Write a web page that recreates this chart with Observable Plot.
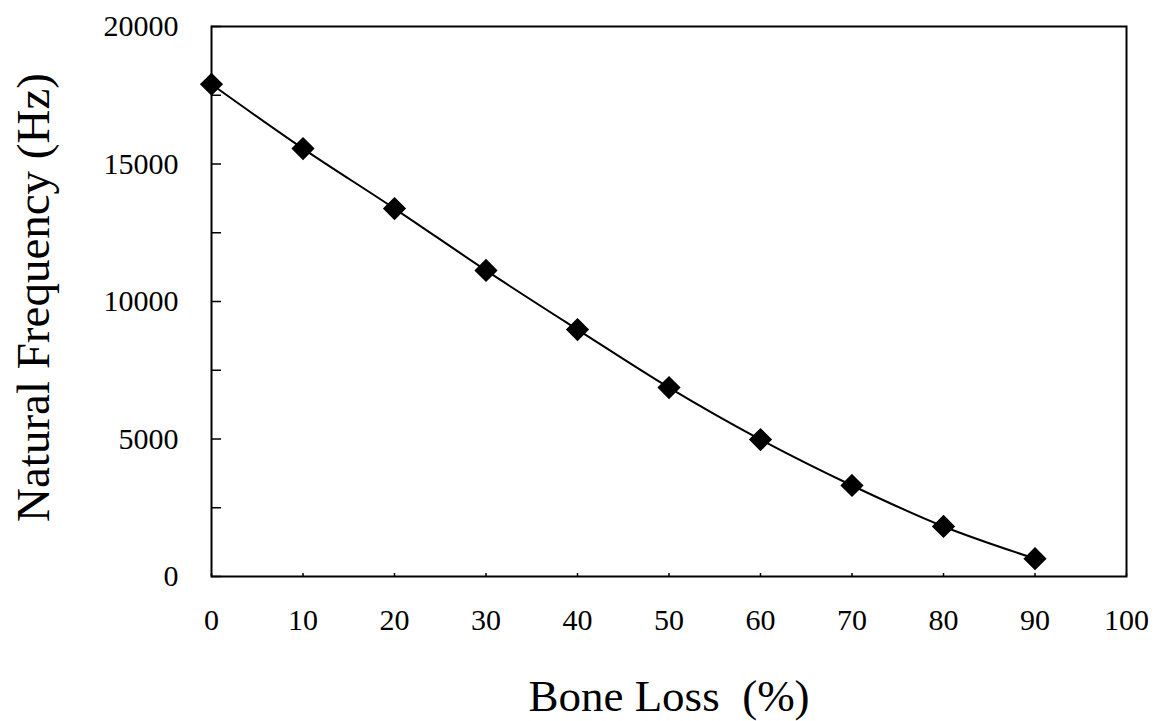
<!DOCTYPE html>
<html>
<head>
<meta charset="utf-8">
<script src="https://cdn.jsdelivr.net/npm/d3@7"></script>
<script src="https://cdn.jsdelivr.net/npm/@observablehq/plot@0.6"></script>
<style>
  html, body { margin: 0; padding: 0; background: #fff; }
  svg { display: block; }
</style>
</head>
<body>
<div id="chart"></div>
<script>
const boneLoss = [0, 10, 20, 30, 40, 50, 60, 70, 80, 90];
const frequency = [17900, 15560, 13380, 11130, 8980, 6870, 4980, 3310, 1820, 650];
const xTickValues = [0, 10, 20, 30, 40, 50, 60, 70, 80, 90, 100];
const yLabelValues = [0, 5000, 10000, 15000, 20000];
const yTickValues = [0, 2500, 5000, 7500, 10000, 12500, 15000, 17500, 20000];

const data = boneLoss.map((b, i) => ({b, f: frequency[i]}));

const chart = Plot.plot({
  width: 1168,
  height: 721,
  marginLeft: 211,
  marginRight: 42,
  marginTop: 26,
  marginBottom: 145,
  style: {fontFamily: "'Liberation Serif', 'Times New Roman', serif", fontSize: "30px", color: "#000", background: "#fff"},
  x: {domain: [0, 100]},
  y: {domain: [0, 20000]},
  marks: [
    Plot.frame({stroke: "#000", strokeWidth: 2}),
    Plot.axisY(yTickValues, {tickSize: -10, tickFormat: () => "", strokeWidth: 1.5, label: null}),
    Plot.axisY(yLabelValues, {tickSize: 0, tickPadding: 33, tickFormat: "d", fontSize: 30, label: null, fill: "#000"}),
    Plot.axisX(xTickValues, {tickSize: -3, tickPadding: 35, tickFormat: "d", fontSize: 30, label: null, fill: "#000", strokeWidth: 1.5}),
    Plot.text(["Bone Loss  (%)"], {frameAnchor: "bottom", dy: 134, fontSize: 45, fill: "#000", lineAnchor: "bottom"}),
    Plot.text(["Natural Frequency (Hz)"], {frameAnchor: "left", textAnchor: "middle", dx: -178, dy: -4, rotate: -90, fontSize: 47, fill: "#000"}),
    Plot.line(data, {x: "b", y: "f", curve: "catmull-rom", stroke: "#000", strokeWidth: 2}),
    Plot.dot(data, {x: "b", y: "f", symbol: "diamond2", r: 9.5, fill: "#000", stroke: "#000"})
  ]
});
document.getElementById("chart").appendChild(chart);
</script>
</body>
</html>
